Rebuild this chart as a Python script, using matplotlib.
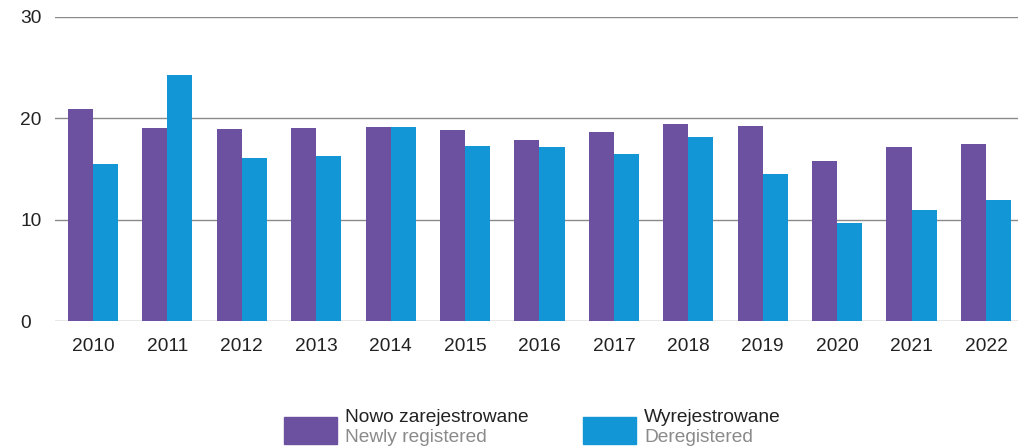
import matplotlib
matplotlib.use("Agg")
import matplotlib.pyplot as plt
from matplotlib.patches import Rectangle
import numpy as np

years = ["2010", "2011", "2012", "2013", "2014", "2015", "2016",
         "2017", "2018", "2019", "2020", "2021", "2022"]
newly_registered = [20.9, 19.0, 18.9, 19.0, 19.1, 18.8, 17.9,
                    18.7, 19.4, 19.2, 15.8, 17.2, 17.5]
deregistered = [15.5, 24.3, 16.1, 16.3, 19.1, 17.3, 17.2,
                16.5, 18.2, 14.5, 9.7, 11.0, 11.9]
yticks = [0, 10, 20, 30]

PURPLE = "#6B51A0"
BLUE = "#1396D6"
FS = 13.8

plt.rcParams['font.family'] = ['Liberation Sans', 'DejaVu Sans']

W, H = 1018, 447
fig = plt.figure(figsize=(W / 100, H / 100), dpi=100)
ax = fig.add_axes([55 / W, 1 - 321 / H, 1 - 55 / W, (321 - 17) / H])

x = np.arange(len(years))
bw = 0.337
ax.bar(x - bw / 2, newly_registered, bw, color=PURPLE, zorder=3)
ax.bar(x + bw / 2, deregistered, bw, color=BLUE, zorder=3)

ax.set_xlim(-0.51, 12.43)
ax.set_ylim(0, 30)
ax.set_yticks(yticks)
ax.set_xticks(x)
ax.set_xticklabels(years)
ax.tick_params(axis='both', length=0, labelsize=FS, colors="#222222")
ax.tick_params(axis='x', pad=12)
ax.tick_params(axis='y', pad=25)
for lab in ax.get_yticklabels():
    lab.set_horizontalalignment('left')
ax.yaxis.grid(True, color="#8a8a8a", linewidth=1.0, zorder=0)
for s in ax.spines.values():
    s.set_visible(False)

# legend
def legend_item(x0, color, line1, line2):
    fig.add_artist(Rectangle((x0 / W, 1 - 444 / H), 53 / W, 27 / H,
                             transform=fig.transFigure, color=color))
    fig.text((x0 + 61) / W, 1 - 417 / H, line1, fontsize=FS, color="#222222",
             va='center', ha='left')
    fig.text((x0 + 61) / W, 1 - 437 / H, line2, fontsize=FS, color="#8a8a8a",
             va='center', ha='left')

legend_item(284, PURPLE, "Nowo zarejestrowane", "Newly registered")
legend_item(583, BLUE, "Wyrejestrowane", "Deregistered")

fig.savefig("out.png", dpi=100)
